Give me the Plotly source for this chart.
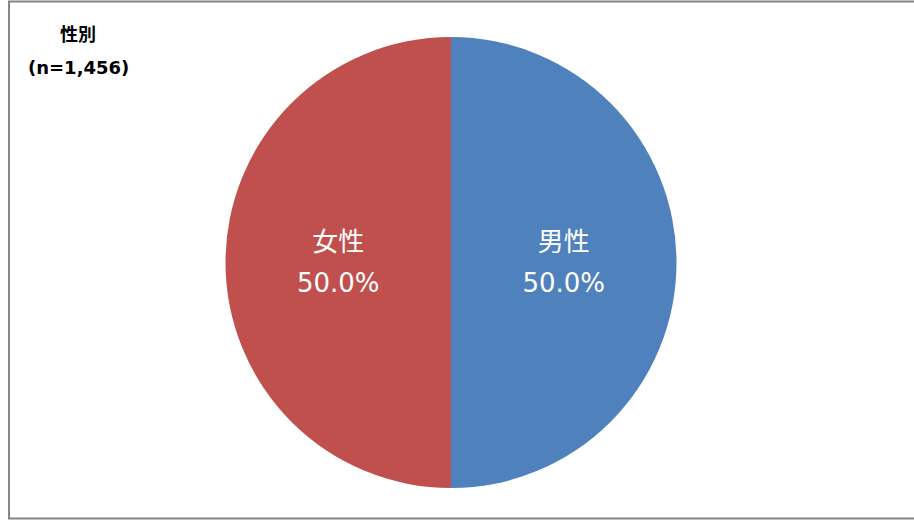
import plotly.graph_objects as go

categories = ["男性", "女性"]
counts = [728, 728]
colors = ["#4F81BD", "#C0504D"]
title_lines = ["性別", "(n=1,456)"]

W, H = 914, 520
font_family = "DejaVu Sans, Noto Sans CJK JP, sans-serif"

fig = go.Figure(go.Pie(
    labels=categories,
    values=counts,
    sort=False,
    direction="clockwise",
    rotation=0,
    marker=dict(colors=colors, line=dict(width=0)),
    texttemplate="<span style='font-size:26px'>%{label}</span><br>"
                 "<span style='font-size:26px'>%{percent:.1%}</span>",
    textposition="inside",
    insidetextorientation="horizontal",
    textfont=dict(family=font_family, size=32, color="white"),
    showlegend=False,
    hoverinfo="label+percent",
    domain=dict(x=[225 / W, 677 / W], y=[32 / H, 483 / H]),
))

fig.add_annotation(x=78 / W, y=1 - 35 / H, xref="paper", yref="paper",
                   text="<b>%s</b>" % title_lines[0], showarrow=False,
                   xanchor="center", yanchor="middle",
                   font=dict(family=font_family, size=18, color="black"))
fig.add_annotation(x=78 / W, y=1 - 67 / H, xref="paper", yref="paper",
                   text="<b>%s</b>" % title_lines[1], showarrow=False,
                   xanchor="center", yanchor="middle",
                   font=dict(family=font_family, size=18, color="black"))

fig.add_shape(type="rect", xref="paper", yref="paper",
              x0=9 / W, x1=1.01, y0=1 - 518.5 / H, y1=1 - 1.5 / H,
              line=dict(color="#868686", width=2), fillcolor="rgba(0,0,0,0)")

fig.update_layout(
    width=W, height=H,
    margin=dict(l=0, r=0, t=0, b=0),
    paper_bgcolor="white", plot_bgcolor="white",
    font=dict(family=font_family),
)

fig.write_html("out.html",
               config={"displayModeBar": False},
               post_script="document.body.style.margin='0';document.body.style.overflow='hidden';")
